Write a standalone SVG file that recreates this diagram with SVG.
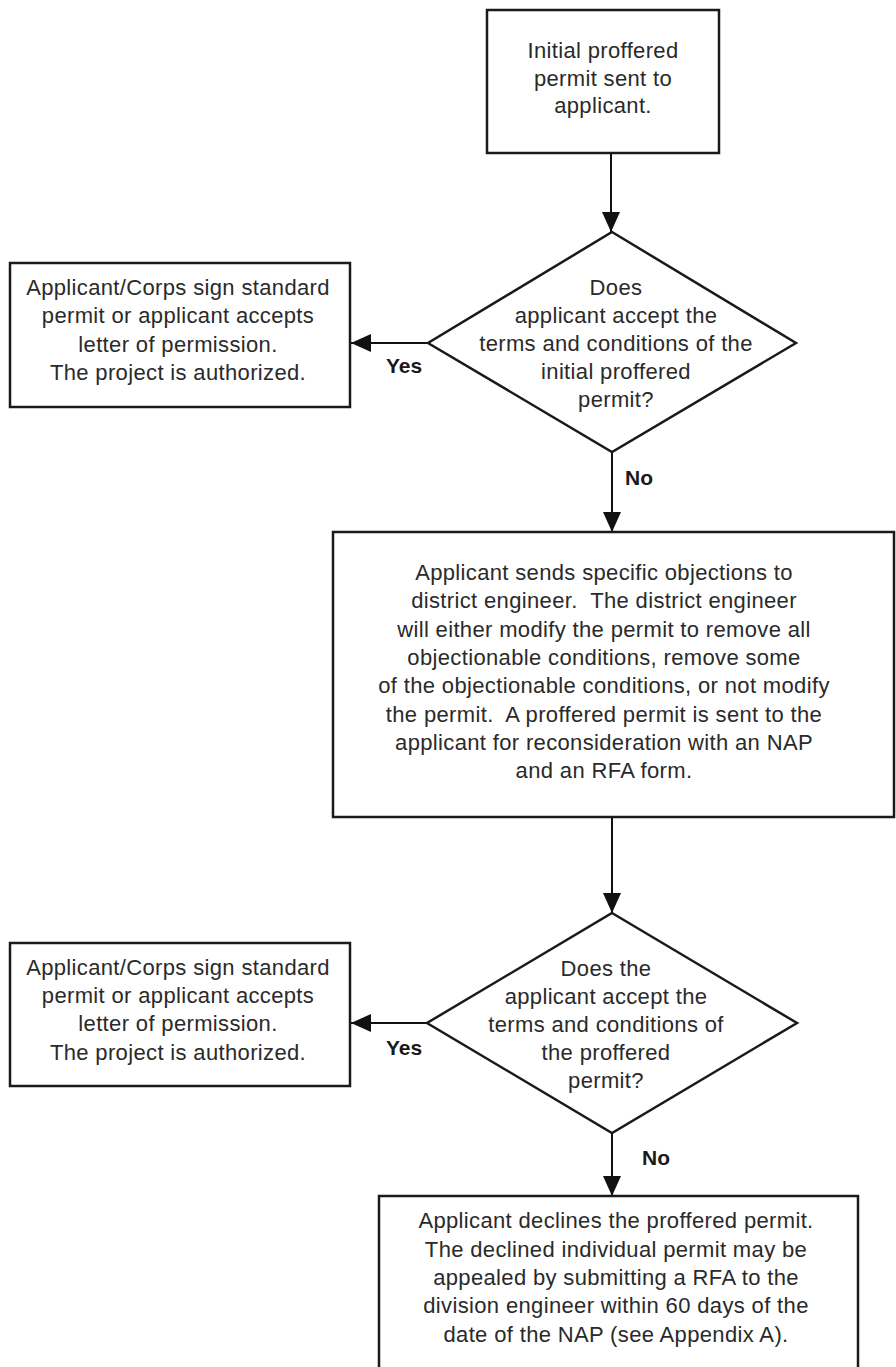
<svg xmlns="http://www.w3.org/2000/svg" width="896" height="1367" viewBox="0 0 896 1367">
<style>
.box{fill:#fff;stroke:#1a1a1a;stroke-width:2.5}
.t{font-family:"Liberation Sans",Arial,sans-serif;font-size:22px;letter-spacing:0.35px;fill:#2a2a2a;text-anchor:middle;white-space:pre}
.lbl{font-family:"Liberation Sans",Arial,sans-serif;font-size:21px;font-weight:bold;fill:#1a1a1a}
.ln{stroke:#111;stroke-width:2;fill:none}
</style>
<defs>
<marker id="arr" markerUnits="userSpaceOnUse" markerWidth="20" markerHeight="20" refX="20" refY="10" orient="auto">
<path d="M0,1 L20,10 L0,19 Z" fill="#111"/>
</marker>
</defs>
<rect width="896" height="1367" fill="#fff"/>
<g id="connectors">
<line class="ln" x1="611" y1="153" x2="611" y2="232" marker-end="url(#arr)"/>
<line class="ln" x1="428" y1="343" x2="351" y2="343" marker-end="url(#arr)"/>
<line class="ln" x1="612" y1="452" x2="612" y2="532" marker-end="url(#arr)"/>
<line class="ln" x1="612" y1="817" x2="612" y2="913" marker-end="url(#arr)"/>
<line class="ln" x1="427" y1="1023" x2="351" y2="1023" marker-end="url(#arr)"/>
<line class="ln" x1="612" y1="1133" x2="612" y2="1196" marker-end="url(#arr)"/>
<text class="lbl" x="386" y="373">Yes</text>
<text class="lbl" x="625" y="485">No</text>
<text class="lbl" x="386" y="1055">Yes</text>
<text class="lbl" x="642" y="1165">No</text>
</g>
<g id="start">
<rect class="box" x="487" y="10" width="232" height="143"/>
<text class="t" x="603" y="58">Initial proffered</text>
<text class="t" x="603" y="86">permit sent to</text>
<text class="t" x="603" y="113">applicant.</text>
</g>
<g id="decision1">
<polygon class="box" points="612,232 796,343 612,452 428,343"/>
<text class="t" x="616" y="295">Does</text>
<text class="t" x="616" y="323">applicant accept the</text>
<text class="t" x="616" y="351">terms and conditions of the</text>
<text class="t" x="616" y="379">initial proffered</text>
<text class="t" x="616" y="407">permit?</text>
</g>
<g id="authorized1">
<rect class="box" x="10" y="263" width="340" height="144"/>
<text class="t" x="178" y="295">Applicant/Corps sign standard</text>
<text class="t" x="178" y="323">permit or applicant accepts</text>
<text class="t" x="178" y="352">letter of permission.</text>
<text class="t" x="178" y="380">The project is authorized.</text>
</g>
<g id="objections">
<rect class="box" x="333" y="532" width="561" height="285"/>
<text class="t" x="604" y="580">Applicant sends specific objections to</text>
<text class="t" x="604" y="608">district engineer.  The district engineer</text>
<text class="t" x="604" y="637">will either modify the permit to remove all</text>
<text class="t" x="604" y="665">objectionable conditions, remove some</text>
<text class="t" x="604" y="693">of the objectionable conditions, or not modify</text>
<text class="t" x="604" y="722">the permit.  A proffered permit is sent to the</text>
<text class="t" x="604" y="750">applicant for reconsideration with an NAP</text>
<text class="t" x="604" y="778">and an RFA form.</text>
</g>
<g id="decision2">
<polygon class="box" points="612,913 797,1023 612,1133 427,1023"/>
<text class="t" x="606" y="976">Does the</text>
<text class="t" x="606" y="1004">applicant accept the</text>
<text class="t" x="606" y="1032">terms and conditions of</text>
<text class="t" x="606" y="1060">the proffered</text>
<text class="t" x="606" y="1088">permit?</text>
</g>
<g id="authorized2">
<rect class="box" x="10" y="943" width="340" height="143"/>
<text class="t" x="178" y="975">Applicant/Corps sign standard</text>
<text class="t" x="178" y="1003">permit or applicant accepts</text>
<text class="t" x="178" y="1031">letter of permission.</text>
<text class="t" x="178" y="1060">The project is authorized.</text>
</g>
<g id="declined">
<rect class="box" x="379" y="1196" width="479" height="190"/>
<text class="t" x="616" y="1228">Applicant declines the proffered permit.</text>
<text class="t" x="616" y="1257">The declined individual permit may be</text>
<text class="t" x="616" y="1285">appealed by submitting a RFA to the</text>
<text class="t" x="616" y="1313">division engineer within 60 days of the</text>
<text class="t" x="616" y="1342">date of the NAP (see Appendix A).</text>
</g>
</svg>
